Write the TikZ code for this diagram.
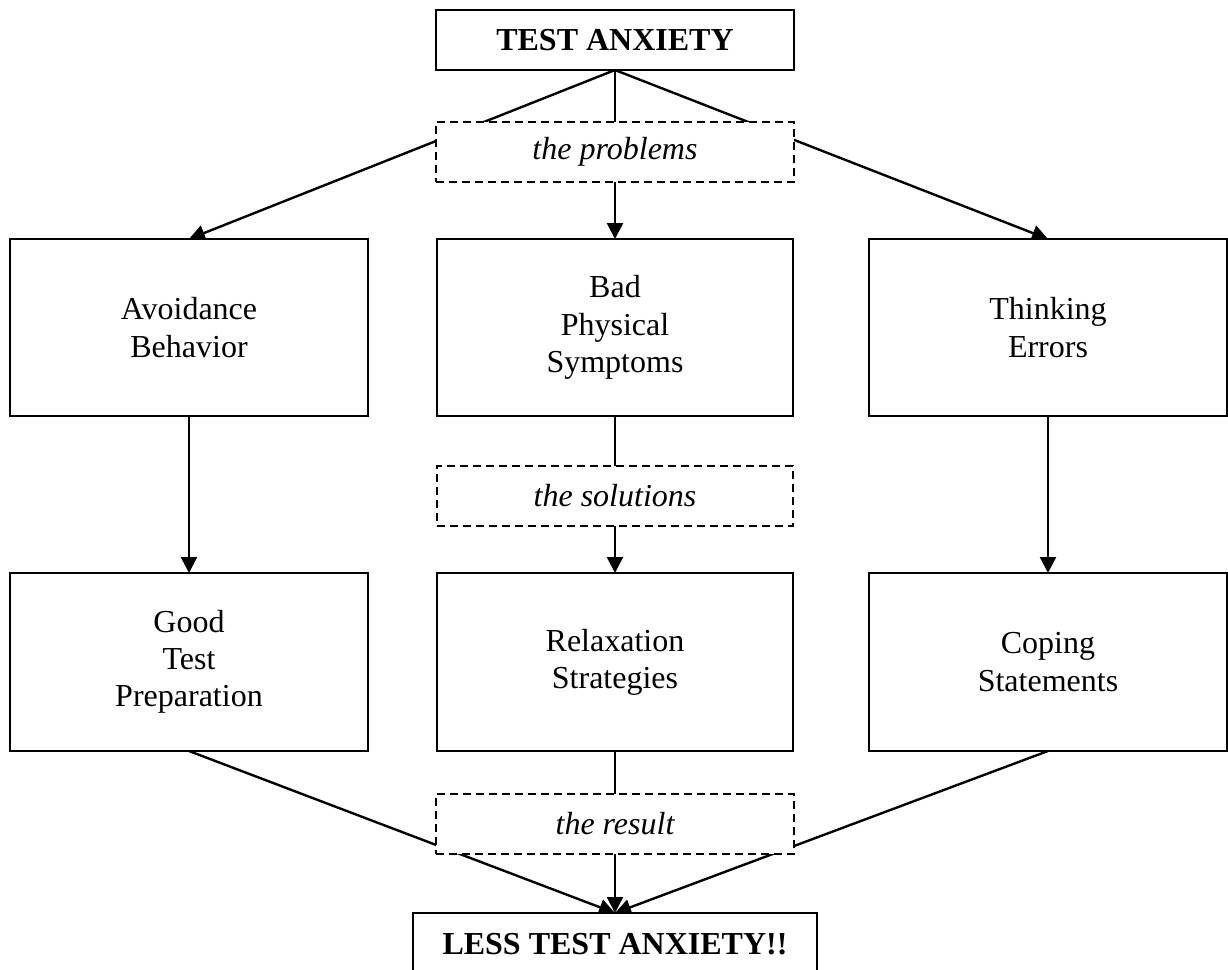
\documentclass[tikz,border=0pt]{standalone}
\usepackage{fontspec}
\setmainfont{Liberation Serif}
\usetikzlibrary{arrows.meta,backgrounds}
\begin{document}
\begin{tikzpicture}[x=0.5pt,y=-0.5pt,
  txt/.style={font=\fontsize{16}{18.6}\selectfont},
  box/.style={txt,draw,line width=1.1pt,fill=white,align=center,
    inner sep=0pt,outer sep=0pt,minimum width=179pt,minimum height=88.5pt},
  titlebox/.style={box,minimum height=30pt,font=\fontsize{16}{18.6}\selectfont\bfseries},
  stage/.style={txt,draw,line width=0.8pt,dash pattern=on 4pt off 2.5pt,
    fill=white,inner sep=0pt,outer sep=0pt,minimum width=179pt,minimum height=30pt,
    font=\fontsize{16}{18.6}\selectfont\itshape},
  link/.style={line width=1.2pt},
  arr/.style={link,-{Triangle[length=8pt,width=8pt]}}
]
\clip (0,0) rectangle (1228,970);

% headline
\node[titlebox] (top) at (615,40) {TEST ANXIETY};
\node[stage] (prob) at (615,152) {the problems};

% the three problems
\node[box] (avoid) at (189,327.5) {Avoidance\\Behavior};
\node[box,minimum width=178pt] (phys) at (615,327.5) {Bad\\Physical\\Symptoms};
\node[box] (think) at (1048,327.5) {Thinking\\Errors};

\node[stage,minimum width=178pt] (sol) at (615,496) {the solutions};

% the three solutions
\node[box,minimum height=89pt] (prep) at (189,662) {Good\\Test\\Preparation};
\node[box,minimum height=89pt,minimum width=178pt] (relax) at (615,662) {Relaxation\\Strategies};
\node[box,minimum height=89pt] (cope) at (1048,662) {Coping\\Statements};

\node[stage] (res) at (615,824) {the result};

% outcome
\node[titlebox,minimum width=202pt,minimum height=31pt] (bot) at (615,944) {LESS TEST ANXIETY!!};

% connectors run behind the boxes
\begin{pgfonlayer}{background}
  \draw[arr] (top.south) -- (avoid.north);
  \draw[arr] (top.south) -- (phys.north);
  \draw[arr] (top.south) -- (think.north);
  \draw[arr] (avoid.south) -- (prep.north);
  \draw[arr] (phys.south) -- (relax.north);
  \draw[arr] (think.south) -- (cope.north);
  \draw[arr] (prep.south) -- (bot.north);
  \draw[arr] (relax.south) -- (bot.north);
  \draw[arr] (cope.south) -- (bot.north);
\end{pgfonlayer}
\end{tikzpicture}
\end{document}
